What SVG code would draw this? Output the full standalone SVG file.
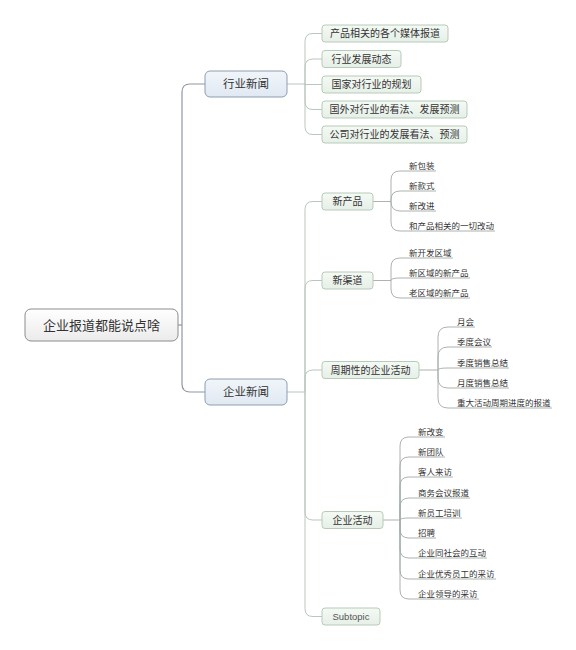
<svg xmlns="http://www.w3.org/2000/svg" width="576" height="650" viewBox="0 0 576 650">
<defs>
<linearGradient id="gRoot" x1="0" y1="0" x2="0" y2="1"><stop offset="0" stop-color="#ffffff"/><stop offset="1" stop-color="#ebebeb"/></linearGradient>
<linearGradient id="gMain" x1="0" y1="0" x2="0" y2="1"><stop offset="0" stop-color="#f1f5fa"/><stop offset="1" stop-color="#e0e8f2"/></linearGradient>
<linearGradient id="gSub" x1="0" y1="0" x2="0" y2="1"><stop offset="0" stop-color="#f4f9f4"/><stop offset="1" stop-color="#e6f0e7"/></linearGradient>
</defs>
<style>
text{font-family:"Noto Sans CJK SC","Microsoft YaHei",sans-serif;fill:#333}
.root rect{fill:url(#gRoot);stroke:#8c8c8c;stroke-width:1}
.root text{font-size:13px;text-anchor:middle}
.main rect{fill:url(#gMain);stroke:#8e9db0;stroke-width:1}
.main text{font-size:11.5px;text-anchor:middle}
.sub rect{fill:url(#gSub);stroke:#b6cbb8;stroke-width:1}
.sub text{font-size:10px;text-anchor:middle}
.leaf text{font-size:8.5px}
.c1{fill:none;stroke:#8e98a3;stroke-width:1.2}
.c2{fill:none;stroke:#b9c6bb;stroke-width:1}
.c3{fill:none;stroke:#a3aca5;stroke-width:0.9}
</style>
<rect width="576" height="650" fill="#ffffff"/>
<g id="connectors">
<path class="c1" d="M178 325 H182"/>
<path class="c1" d="M205 84 H190 Q182 84 182 92 V384 Q182 392 190 392 H205"/>
<path class="c2" d="M287 84 H305"/>
<path class="c2" d="M305 84 V41.5 Q305 33.5 313 33.5 H322"/>
<path class="c2" d="M305 84 V67 Q305 59 313 59 H322"/>
<path class="c2" d="M305 84.5 H322"/>
<path class="c2" d="M305 84 V101.5 Q305 109.5 313 109.5 H322"/>
<path class="c2" d="M305 84 V126.5 Q305 134.5 313 134.5 H322"/>
<path class="c2" d="M287 392 H305"/>
<path class="c2" d="M305 392 V209.5 Q305 201.5 313 201.5 H322"/>
<path class="c2" d="M305 392 V288.5 Q305 280.5 313 280.5 H322"/>
<path class="c2" d="M305 392 V378 Q305 370 313 370 H322"/>
<path class="c2" d="M305 392 V512 Q305 520 313 520 H322"/>
<path class="c2" d="M305 392 V608.5 Q305 616.5 313 616.5 H322"/>
<path class="c3" d="M373 201.5 H391"/>
<path class="c3" d="M391 201.5 V180 Q391 171 400 171 H436"/>
<path class="c3" d="M391 201.5 V200 Q391 191 400 191 H436"/>
<path class="c3" d="M391 201.5 Q391 211 400 211 H436"/>
<path class="c3" d="M391 201.5 V222 Q391 231 400 231 H495"/>
<path class="c3" d="M373 280.5 H391"/>
<path class="c3" d="M391 280.5 V267 Q391 258 400 258 H453"/>
<path class="c3" d="M391 280.5 Q391 278 400 278 H470"/>
<path class="c3" d="M391 280.5 V289 Q391 298 400 298 H470"/>
<path class="c3" d="M419 370 H438"/>
<path class="c3" d="M438 370 V337 Q438 327 448 327 H475"/>
<path class="c3" d="M438 370 V357 Q438 347 448 347 H492"/>
<path class="c3" d="M438 370 Q438 368 448 368 H509"/>
<path class="c3" d="M438 370 V378 Q438 388 448 388 H509"/>
<path class="c3" d="M438 370 V398 Q438 408 448 408 H552"/>
<path class="c3" d="M383 520 H400"/>
<path class="c3" d="M400 520 V446 Q400 437 409 437 H445"/>
<path class="c3" d="M400 520 V466 Q400 457 409 457 H445"/>
<path class="c3" d="M400 520 V486 Q400 477 409 477 H453"/>
<path class="c3" d="M400 520 V507 Q400 498 409 498 H470"/>
<path class="c3" d="M400 520 Q400 518 409 518 H462"/>
<path class="c3" d="M400 520 V529 Q400 538 409 538 H436"/>
<path class="c3" d="M400 520 V549 Q400 558 409 558 H487"/>
<path class="c3" d="M400 520 V570 Q400 579 409 579 H496"/>
<path class="c3" d="M400 520 V590 Q400 599 409 599 H479"/>
</g>
<g id="root" class="root"><rect x="25" y="309" width="153" height="32" rx="6"/><text x="101.5" y="329.5">企业报道都能说点啥</text></g>
<g id="n-hangye" class="main"><rect x="205" y="71" width="82" height="26" rx="5"/><text x="246" y="88">行业新闻</text></g>
<g id="n-qiye" class="main"><rect x="205" y="379" width="82" height="26" rx="5"/><text x="246" y="396">企业新闻</text></g>
<g id="h1" class="sub"><rect x="322" y="25" width="126" height="17" rx="3"/><text x="385" y="37">产品相关的各个媒体报道</text></g>
<g id="h2" class="sub"><rect x="322" y="50.5" width="79" height="17" rx="3"/><text x="361.5" y="62.5">行业发展动态</text></g>
<g id="h3" class="sub"><rect x="322" y="76" width="99" height="17" rx="3"/><text x="371.5" y="88">国家对行业的规划</text></g>
<g id="h4" class="sub"><rect x="322" y="101" width="145" height="17" rx="3"/><text x="394.5" y="113">国外对行业的看法、发展预测</text></g>
<g id="h5" class="sub"><rect x="322" y="126" width="145" height="17" rx="3"/><text x="394.5" y="138">公司对行业的发展看法、预测</text></g>
<g id="q1" class="sub"><rect x="322" y="193" width="51" height="17" rx="3"/><text x="347.5" y="205">新产品</text></g>
<g id="q2" class="sub"><rect x="322" y="272" width="51" height="17" rx="3"/><text x="347.5" y="284">新渠道</text></g>
<g id="q3" class="sub"><rect x="322" y="361.5" width="97" height="17" rx="3"/><text x="370.5" y="373.5">周期性的企业活动</text></g>
<g id="q4" class="sub"><rect x="322" y="511.5" width="61" height="17" rx="3"/><text x="352.5" y="523.5">企业活动</text></g>
<g id="q5" class="sub"><rect x="322" y="608" width="58" height="17" rx="3"/><text x="351" y="620" style="font-family:'Liberation Sans','Noto Sans',sans-serif;font-size:9.5px;fill:#555">Subtopic</text></g>
<g id="leaves-xinchanpin" class="leaf">
<text x="409" y="168.5">新包装</text>
<text x="409" y="188.5">新款式</text>
<text x="409" y="208.5">新改进</text>
<text x="409" y="228.5">和产品相关的一切改动</text>
</g>
<g id="leaves-xinqudao" class="leaf">
<text x="409" y="255.5">新开发区域</text>
<text x="409" y="275.5">新区域的新产品</text>
<text x="409" y="295.5">老区域的新产品</text>
</g>
<g id="leaves-zhouqi" class="leaf">
<text x="457" y="324.5">月会</text>
<text x="457" y="344.5">季度会议</text>
<text x="457" y="365.5">季度销售总结</text>
<text x="457" y="385.5">月度销售总结</text>
<text x="457" y="405.5">重大活动周期进度的报道</text>
</g>
<g id="leaves-huodong" class="leaf">
<text x="418" y="434.5">新改变</text>
<text x="418" y="454.5">新团队</text>
<text x="418" y="474.5">客人来访</text>
<text x="418" y="495.5">商务会议报道</text>
<text x="418" y="515.5">新员工培训</text>
<text x="418" y="535.5">招聘</text>
<text x="418" y="555.5">企业同社会的互动</text>
<text x="418" y="576.5">企业优秀员工的采访</text>
<text x="418" y="596.5">企业领导的采访</text>
</g>
</svg>
